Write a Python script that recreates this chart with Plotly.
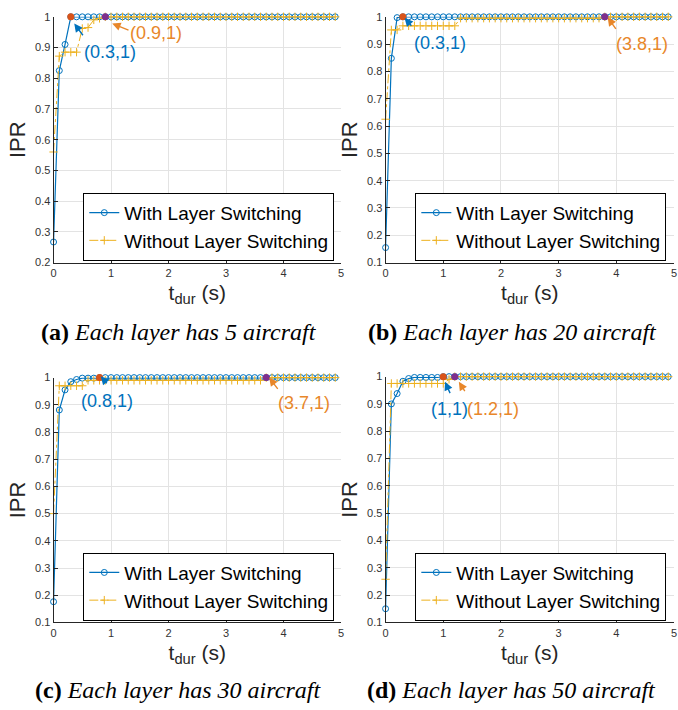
import plotly.graph_objects as go

# ---------------- data ----------------
t = [0.0, 0.1, 0.2, 0.3, 0.4, 0.5, 0.6, 0.7, 0.8, 0.9,
     1.0, 1.1, 1.2, 1.3, 1.4, 1.5, 1.6, 1.7, 1.8, 1.9,
     2.0, 2.1, 2.2, 2.3, 2.4, 2.5, 2.6, 2.7, 2.8, 2.9,
     3.0, 3.1, 3.2, 3.3, 3.4, 3.5, 3.6, 3.7, 3.8, 3.9,
     4.0, 4.1, 4.2, 4.3, 4.4, 4.5, 4.6, 4.7, 4.8, 4.9]

with_a = [0.267, 0.825, 0.91, 1, 1, 1, 1, 1, 1, 1,
          1, 1, 1, 1, 1, 1, 1, 1, 1, 1,
          1, 1, 1, 1, 1, 1, 1, 1, 1, 1,
          1, 1, 1, 1, 1, 1, 1, 1, 1, 1,
          1, 1, 1, 1, 1, 1, 1, 1, 1, 1]
without_a = [0.56, 0.872, 0.885, 0.885, 0.885, 0.962, 0.965, 0.99, 0.995, 1,
             1, 1, 1, 1, 1, 1, 1, 1, 1, 1,
             1, 1, 1, 1, 1, 1, 1, 1, 1, 1,
             1, 1, 1, 1, 1, 1, 1, 1, 1, 1,
             1, 1, 1, 1, 1, 1, 1, 1, 1, 1]

with_b = [0.155, 0.848, 0.997, 1, 1, 1, 1, 1, 1, 1,
          1, 1, 1, 1, 1, 1, 1, 1, 1, 1,
          1, 1, 1, 1, 1, 1, 1, 1, 1, 1,
          1, 1, 1, 1, 1, 1, 1, 1, 1, 1,
          1, 1, 1, 1, 1, 1, 1, 1, 1, 1]
without_b = [0.625, 0.952, 0.952, 0.967, 0.967, 0.967, 0.967, 0.967, 0.967, 0.967,
             0.967, 0.967, 0.967, 0.995, 0.995, 0.995, 0.995, 0.995, 0.995, 0.995,
             0.995, 0.995, 0.995, 0.995, 0.995, 0.995, 0.995, 0.995, 0.995, 0.995,
             0.995, 0.995, 0.995, 0.995, 0.995, 0.995, 0.995, 0.995, 1, 1,
             1, 1, 1, 1, 1, 1, 1, 1, 1, 1]

with_c = [0.176, 0.881, 0.955, 0.985, 0.993, 0.998, 0.998, 0.998, 1, 1,
          1, 1, 1, 1, 1, 1, 1, 1, 1, 1,
          1, 1, 1, 1, 1, 1, 1, 1, 1, 1,
          1, 1, 1, 1, 1, 1, 1, 1, 1, 1,
          1, 1, 1, 1, 1, 1, 1, 1, 1, 1]
without_c = [0.5, 0.97, 0.97, 0.97, 0.97, 0.97, 0.99, 0.99, 0.99, 0.99,
             0.99, 0.99, 0.99, 0.99, 0.99, 0.99, 0.99, 0.99, 0.99, 0.99,
             0.99, 0.99, 0.99, 0.99, 0.99, 0.99, 0.99, 0.99, 0.99, 0.99,
             0.99, 0.99, 0.99, 0.99, 0.99, 0.99, 0.99, 1, 1, 1,
             1, 1, 1, 1, 1, 1, 1, 1, 1, 1]

with_d = [0.15, 0.9, 0.938, 0.983, 0.993, 0.997, 0.997, 0.997, 0.997, 0.997,
          1, 1, 1, 1, 1, 1, 1, 1, 1, 1,
          1, 1, 1, 1, 1, 1, 1, 1, 1, 1,
          1, 1, 1, 1, 1, 1, 1, 1, 1, 1,
          1, 1, 1, 1, 1, 1, 1, 1, 1, 1]
without_d = [0.258, 0.975, 0.975, 0.975, 0.975, 0.975, 0.975, 0.975, 0.975, 0.975,
             0.975, 0.99, 1, 1, 1, 1, 1, 1, 1, 1,
             1, 1, 1, 1, 1, 1, 1, 1, 1, 1,
             1, 1, 1, 1, 1, 1, 1, 1, 1, 1,
             1, 1, 1, 1, 1, 1, 1, 1, 1, 1]

reach_with = [0.3, 0.3, 0.8, 1.0]
reach_without = [0.9, 3.8, 3.7, 1.2]
reach_labels_with = ["(0.3,1)", "(0.3,1)", "(0.8,1)", "(1,1)"]
reach_labels_without = ["(0.9,1)", "(3.8,1)", "(3.7,1)", "(1.2,1)"]

x_ticks = [0, 1, 2, 3, 4, 5]
y_ticks_a = [0.2, 0.3, 0.4, 0.5, 0.6, 0.7, 0.8, 0.9, 1]
y_ticks = [0.1, 0.2, 0.3, 0.4, 0.5, 0.6, 0.7, 0.8, 0.9, 1]

captions = [("(a)", "Each layer has 5 aircraft"),
            ("(b)", "Each layer has 20 aircraft"),
            ("(c)", "Each layer has 30 aircraft"),
            ("(d)", "Each layer has 50 aircraft")]

series_names = ["With Layer Switching", "Without Layer Switching"]

# ---------------- styling / layout ----------------
W, H = 678, 710
BLUE = "#0072BD"
YEL = "#EDB120"
RED = "#D95319"
PUR = "#7E2F8E"
ORG_TXT = "#E8872A"
SANS = "Liberation Sans, Arial, sans-serif"
SERIF = "Liberation Serif, Times New Roman, serif"

def xdom(a, b):
    return [a / W, b / W]

def ydom(top, bottom):
    return [1 - bottom / H, 1 - top / H]

panels = [
    dict(xd=xdom(51, 341), yd=ydom(11, 261), yr=[0.2, 1], yt=y_ticks_a,
         w=with_a, wo=without_a, leg=(81, 190),
         arr_w=((0.36, 0.978), (0.53, 0.935)), txt_w=(0.98, 0.885),
         arr_wo=((1.02, 0.978), (1.33, 0.955)), txt_wo=(1.78, 0.946),
         cap=(178, 332)),
    dict(xd=xdom(386, 677), yd=ydom(11, 261), yr=[0.1, 1], yt=y_ticks,
         w=with_b, wo=without_b, leg=(416, 190),
         arr_w=((0.33, 0.996), (0.47, 0.962)), txt_w=(0.95, 0.903),
         arr_wo=((3.85, 0.998), (4.01, 0.95)), txt_wo=(4.45, 0.9),
         cap=(514, 332)),
    dict(xd=xdom(51, 341), yd=ydom(378, 627), yr=[0.1, 1], yt=y_ticks,
         w=with_c, wo=without_c, leg=(81, 556),
         arr_w=((0.82, 1.005), (0.95, 0.974)), txt_w=(0.93, 0.913),
         arr_wo=((3.75, 1.0), (3.92, 0.953)), txt_wo=(4.36, 0.908),
         cap=(177, 696)),
    dict(xd=xdom(386, 677), yd=ydom(377, 627), yr=[0.1, 1], yt=y_ticks,
         w=with_d, wo=without_d, leg=(416, 556),
         arr_w=((1.03, 0.981), (1.13, 0.934)), txt_w=(1.11, 0.88),
         arr_wo=((1.27, 0.981), (1.39, 0.941)), txt_wo=(1.86, 0.88),
         cap=(513, 696)),
]

fig = go.Figure()
layout = dict(width=W, height=H, margin=dict(l=0, r=0, t=0, b=0),
              paper_bgcolor="white", plot_bgcolor="white",
              showlegend=True)
annotations = []

for i, p in enumerate(panels):
    n = "" if i == 0 else str(i + 1)
    xa, ya = "x" + n, "y" + n
    legname = "legend" + n

    fig.add_trace(go.Scatter(
        x=t, y=p["w"], mode="lines+markers", name=series_names[0],
        xaxis=xa, yaxis=ya, legend=legname, cliponaxis=False,
        line=dict(color=BLUE, width=1.2),
        marker=dict(symbol="circle-open", size=6, color=BLUE, line=dict(width=1))))
    fig.add_trace(go.Scatter(
        x=t, y=p["wo"], mode="lines+markers", name=series_names[1],
        xaxis=xa, yaxis=ya, legend=legname, cliponaxis=False,
        line=dict(color=YEL, width=1, dash="dashdot"),
        marker=dict(symbol="cross-thin-open", size=6, color=YEL, line=dict(width=1, color=YEL))))
    fig.add_trace(go.Scatter(
        x=[reach_with[i]], y=[1], mode="markers", showlegend=False,
        xaxis=xa, yaxis=ya, cliponaxis=False,
        marker=dict(symbol="circle", size=7, color=RED)))
    fig.add_trace(go.Scatter(
        x=[reach_without[i]], y=[1], mode="markers", showlegend=False,
        xaxis=xa, yaxis=ya, cliponaxis=False,
        marker=dict(symbol="circle", size=7, color=PUR)))

    layout["xaxis" + n] = dict(
        domain=p["xd"], anchor=ya, range=[0, 5], tickvals=x_ticks,
        showgrid=True, gridcolor="#E3E3E3", gridwidth=1,
        showline=True, linecolor="#262626", linewidth=1,
        ticks="inside", ticklen=4, tickcolor="#262626",
        tickfont=dict(family=SANS, size=11, color="#333333"),
        zeroline=False,
        title=dict(text="t<sub>dur</sub> (s)", standoff=7,
                   font=dict(family=SANS, size=21, color="#262626")))
    layout["yaxis" + n] = dict(
        domain=p["yd"], anchor=xa, range=p["yr"], tickvals=p["yt"],
        showgrid=True, gridcolor="#E3E3E3", gridwidth=1,
        showline=True, linecolor="#262626", linewidth=1,
        ticks="inside", ticklen=4, tickcolor="#262626",
        tickfont=dict(family=SANS, size=11, color="#333333"),
        zeroline=False,
        title=dict(text="IPR", standoff=3,
                   font=dict(family=SANS, size=22, color="#262626")))
    layout[legname] = dict(
        x=p["leg"][0] / W, y=1 - p["leg"][1] / H, xanchor="left", yanchor="top",
        xref="paper", yref="paper",
        bgcolor="white", bordercolor="#000000", borderwidth=1,
        font=dict(family=SANS, size=19, color="#000000"),
        tracegroupgap=0, itemwidth=30)

    # arrows
    for (head, tail), col in ((p["arr_w"], BLUE), (p["arr_wo"], ORG_TXT)):
        annotations.append(dict(
            x=head[0], y=head[1], ax=tail[0], ay=tail[1],
            xref=xa, yref=ya, axref=xa, ayref=ya, text="",
            showarrow=True, arrowhead=2, arrowsize=1.2, arrowwidth=1.4,
            arrowcolor=col))
    annotations.append(dict(
        x=p["txt_w"][0], y=p["txt_w"][1], xref=xa, yref=ya,
        text=reach_labels_with[i], showarrow=False,
        xanchor="center", yanchor="middle",
        font=dict(family=SANS, size=18, color=BLUE)))
    annotations.append(dict(
        x=p["txt_wo"][0], y=p["txt_wo"][1], xref=xa, yref=ya,
        text=reach_labels_without[i], showarrow=False,
        xanchor="center", yanchor="middle",
        font=dict(family=SANS, size=18, color=ORG_TXT)))
    # caption
    annotations.append(dict(
        x=p["cap"][0] / W, y=1 - p["cap"][1] / H, xref="paper", yref="paper",
        text="<b>" + captions[i][0] + "</b> <i>" + captions[i][1] + "</i>",
        showarrow=False, xanchor="center", yanchor="middle",
        font=dict(family=SERIF, size=24, color="#000000")))

layout["annotations"] = annotations
fig.update_layout(**layout)
fig.write_html("out.html")
